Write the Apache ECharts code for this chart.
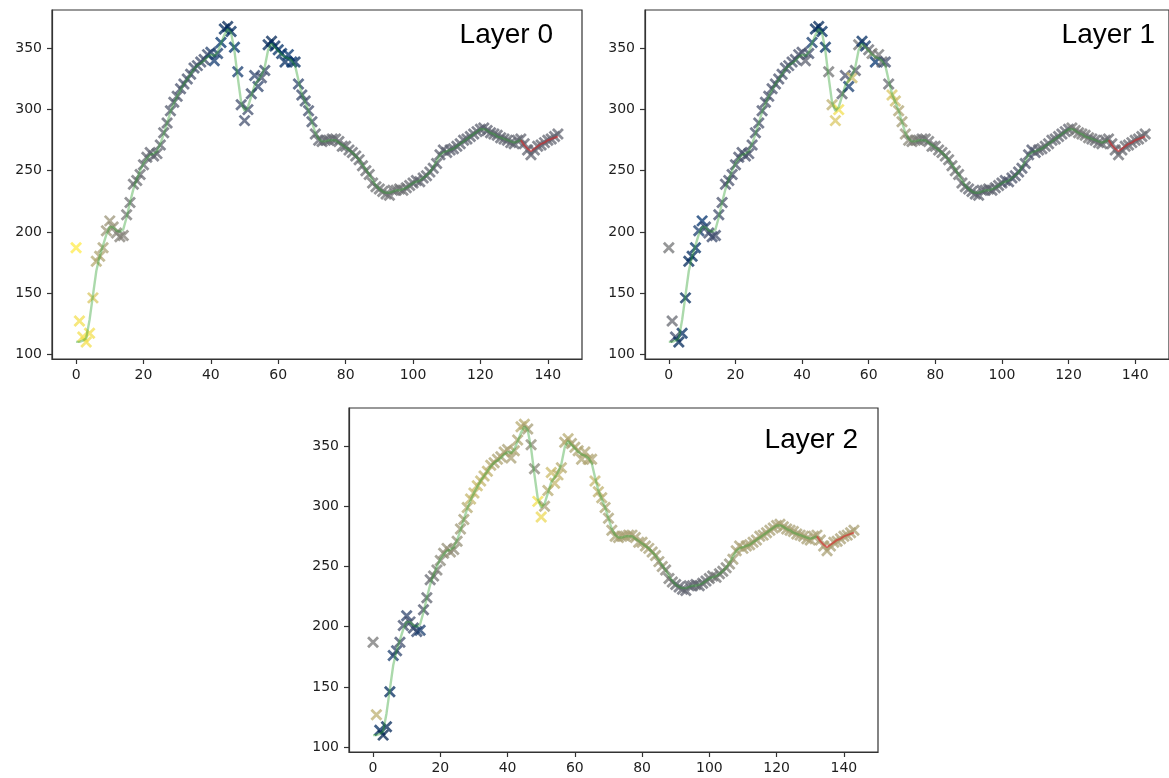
<!DOCTYPE html>
<html>
<head>
<meta charset="utf-8">
<script src="https://cdn.jsdelivr.net/npm/echarts@6/dist/echarts.min.js"></script>
<style>
  html, body { margin: 0; padding: 0; background: #fff; }
  #chart { width: 1169px; height: 778px; }
</style>
</head>
<body>
<div id="chart"></div>
<script>
// Observed series, one value per time step (0..143)
const observed = [
  187, 127, 114, 110, 117, 146, 176, 180, 187, 201,
  209, 204, 199, 196, 197, 214, 224, 239, 242, 247,
  255, 261, 265, 262, 264, 271, 281, 289, 299, 306,
  311, 317, 321, 325, 329, 334, 336, 339, 341, 345,
  347, 340, 346, 355, 366, 368, 364, 351, 331, 304,
  291, 300, 313, 328, 319, 326, 332, 353, 356, 352,
  349, 346, 339, 345, 339, 339, 321, 312, 307, 299,
  290, 280, 275, 274, 275, 275, 276, 276, 274, 270,
  270, 267, 265, 262, 259, 254, 250, 247, 240, 237,
  235, 233, 231, 230, 234, 234, 235, 234, 236, 238,
  240, 242, 241, 244, 246, 249, 252, 256, 263, 267,
  265, 267, 268, 270, 272, 275, 276, 278, 280, 282,
  284, 285, 283, 281, 280, 279, 277, 276, 275, 273,
  272, 275, 276, 272, 267, 263, 267, 270, 271, 273,
  275, 276, 278, 280
];

// Fitted curve over steps 0..132
const fitted = [
  110, 110, 111, 113, 128, 148, 168, 180, 189, 198,
  204, 204, 201, 200, 202, 212, 224, 235, 243, 250,
  256, 260, 263, 264, 266, 272, 280, 289, 298, 305,
  311, 316, 321, 325, 329, 333, 336, 338, 340, 343,
  345, 344, 347, 354, 361, 366, 363, 348, 326, 306,
  299, 302, 311, 320, 324, 328, 335, 349, 354, 351,
  348, 345, 343, 342, 340, 336, 324, 313, 306, 299,
  290, 281, 276, 274, 274, 275, 275, 275, 273, 271,
  269, 267, 265, 262, 259, 255, 251, 247, 242, 238,
  235, 233, 232, 232, 233, 234, 234, 235, 236, 238,
  240, 241, 242, 244, 246, 249, 253, 258, 263, 265,
  266, 267, 268, 270, 272, 274, 276, 278, 280, 282,
  284, 284, 283, 281, 280, 278, 277, 276, 275, 274,
  273, 274, 275
];
const fittedStart = 0;

// Forecast over steps 132..143
const forecast = [275, 271, 268, 266, 268, 270, 272, 273, 275, 276, 277, 278];
const forecastStart = 132;

// Per-step weights (0..1) for each layer, shown through the cividis colormap
const weightsLayer0 = [
  1.00, 0.95, 0.95, 0.95, 0.95, 0.85, 0.72, 0.70, 0.68, 0.62,
  0.62, 0.60, 0.56, 0.52, 0.52, 0.46, 0.44, 0.42, 0.42, 0.41,
  0.40, 0.39, 0.38, 0.38, 0.38, 0.36, 0.36, 0.34, 0.32, 0.31,
  0.30, 0.28, 0.28, 0.27, 0.27, 0.26, 0.26, 0.25, 0.24, 0.22,
  0.18, 0.14, 0.16, 0.10, 0.05, 0.03, 0.06, 0.10, 0.15, 0.25,
  0.25, 0.25, 0.23, 0.20, 0.20, 0.25, 0.22, 0.05, 0.03, 0.06,
  0.08, 0.08, 0.06, 0.10, 0.10, 0.06, 0.20, 0.22, 0.25, 0.25,
  0.27, 0.36, 0.38, 0.39, 0.39, 0.40, 0.40, 0.40, 0.40, 0.40,
  0.40, 0.40, 0.40, 0.40, 0.41, 0.42, 0.42, 0.43, 0.44, 0.44,
  0.44, 0.44, 0.44, 0.44, 0.44, 0.44, 0.44, 0.44, 0.42, 0.41,
  0.40, 0.38, 0.38, 0.38, 0.38, 0.38, 0.37, 0.36, 0.35, 0.35,
  0.35, 0.35, 0.35, 0.35, 0.35, 0.35, 0.35, 0.35, 0.35, 0.35,
  0.35, 0.35, 0.35, 0.35, 0.36, 0.36, 0.36, 0.36, 0.36, 0.36,
  0.36, 0.38, 0.38, 0.38, 0.38, 0.38, 0.38, 0.38, 0.38, 0.38,
  0.38, 0.38, 0.38, 0.38
];
const weightsLayer1 = [
  0.45, 0.40, 0.25, 0.04, 0.06, 0.04, 0.04, 0.06, 0.08, 0.16,
  0.10, 0.20, 0.25, 0.22, 0.25, 0.25, 0.28, 0.28, 0.28, 0.28,
  0.28, 0.28, 0.28, 0.28, 0.28, 0.28, 0.28, 0.28, 0.28, 0.28,
  0.28, 0.28, 0.28, 0.28, 0.28, 0.28, 0.28, 0.28, 0.28, 0.28,
  0.28, 0.34, 0.25, 0.15, 0.04, 0.04, 0.07, 0.07, 0.45, 0.75,
  0.85, 0.95, 0.34, 0.28, 0.15, 0.80, 0.34, 0.45, 0.07, 0.15,
  0.40, 0.50, 0.10, 0.45, 0.40, 0.25, 0.40, 0.85, 0.80, 0.70,
  0.66, 0.62, 0.56, 0.50, 0.50, 0.48, 0.44, 0.44, 0.44, 0.44,
  0.44, 0.44, 0.44, 0.44, 0.44, 0.44, 0.44, 0.42, 0.41, 0.40,
  0.38, 0.36, 0.36, 0.36, 0.36, 0.36, 0.36, 0.36, 0.36, 0.36,
  0.34, 0.30, 0.30, 0.30, 0.30, 0.30, 0.30, 0.30, 0.30, 0.30,
  0.30, 0.38, 0.38, 0.38, 0.38, 0.38, 0.38, 0.38, 0.38, 0.38,
  0.38, 0.46, 0.46, 0.46, 0.46, 0.46, 0.46, 0.41, 0.41, 0.41,
  0.41, 0.41, 0.41, 0.41, 0.41, 0.41, 0.41, 0.41, 0.41, 0.41,
  0.41, 0.41, 0.41, 0.41
];
const weightsLayer2 = [
  0.46, 0.75, 0.06, 0.00, 0.03, 0.05, 0.16, 0.20, 0.25, 0.25,
  0.20, 0.25, 0.22, 0.20, 0.16, 0.30, 0.36, 0.40, 0.46, 0.50,
  0.56, 0.58, 0.60, 0.60, 0.58, 0.60, 0.64, 0.66, 0.72, 0.78,
  0.78, 0.80, 0.78, 0.76, 0.76, 0.73, 0.70, 0.70, 0.68, 0.70,
  0.68, 0.68, 0.70, 0.70, 0.73, 0.73, 0.66, 0.58, 0.56, 0.95,
  0.92, 0.68, 0.73, 0.80, 0.78, 0.76, 0.73, 0.70, 0.73, 0.68,
  0.70, 0.70, 0.70, 0.70, 0.70, 0.70, 0.78, 0.76, 0.73, 0.70,
  0.68, 0.68, 0.68, 0.68, 0.68, 0.68, 0.68, 0.68, 0.68, 0.68,
  0.68, 0.68, 0.68, 0.66, 0.66, 0.64, 0.62, 0.52, 0.48, 0.46,
  0.40, 0.38, 0.38, 0.38, 0.38, 0.38, 0.38, 0.38, 0.40, 0.40,
  0.44, 0.44, 0.46, 0.46, 0.48, 0.52, 0.58, 0.66, 0.68, 0.68,
  0.68, 0.68, 0.68, 0.68, 0.68, 0.68, 0.68, 0.68, 0.68, 0.68,
  0.68, 0.68, 0.68, 0.68, 0.68, 0.68, 0.68, 0.68, 0.68, 0.68,
  0.68, 0.68, 0.68, 0.68, 0.68, 0.68, 0.68, 0.68, 0.68, 0.68,
  0.68, 0.68, 0.68, 0.68
];

const layerNames = ['Layer 0', 'Layer 1', 'Layer 2'];
const layerWeights = [weightsLayer0, weightsLayer1, weightsLayer2];

const xTicks = [0, 20, 40, 60, 80, 100, 120, 140];
const yTicks = [100, 150, 200, 250, 300, 350];

// cividis colormap stops
const cividis = ['#00204D', '#00336F', '#39486B', '#575C6D', '#707173',
                 '#8A8779', '#A69D75', '#C4B56C', '#E4CF5B', '#FFEA46'];

function hexToRgb(h) {
  return [parseInt(h.slice(1, 3), 16), parseInt(h.slice(3, 5), 16), parseInt(h.slice(5, 7), 16)];
}
function cmap(t) {
  t = Math.max(0, Math.min(1, t));
  const pos = t * (cividis.length - 1);
  const i = Math.min(cividis.length - 2, Math.floor(pos));
  const f = pos - i;
  const a = hexToRgb(cividis[i]), b = hexToRgb(cividis[i + 1]);
  const c = a.map((v, k) => Math.round(v + (b[k] - v) * f));
  return 'rgba(' + c[0] + ',' + c[1] + ',' + c[2] + ',0.92)';
}

// Panel boxes (plot area of each subplot)
const panels = [
  { left: 52, top: 10, width: 530, height: 349, titleX: 553, titleY: 35 },
  { left: 645, top: 10, width: 530, height: 349, titleX: 1155, titleY: 35 },
  { left: 349, top: 408, width: 529, height: 344, titleX: 858, titleY: 440 }
];

const xMin = -7.15, xMax = 150.15;
const yMin = 96, yMax = 381.5;

const grids = [], xAxes = [], yAxes = [], series = [], graphics = [];
const axisColor = '#333';
const labelStyle = { fontFamily: 'DejaVu Sans', fontSize: 14, color: '#1e1e1e' };

panels.forEach((p, k) => {
  grids.push({
    left: p.left, top: p.top, width: p.width, height: p.height,
    show: true, borderColor: axisColor, borderWidth: 1.2, backgroundColor: 'transparent'
  });
  xAxes.push({
    type: 'value', gridIndex: k, min: xMin, max: xMax,
    axisLine: { show: true, onZero: false, lineStyle: { color: axisColor, width: 1.2 } },
    axisTick: { show: true, length: 5, customValues: xTicks, lineStyle: { color: axisColor, width: 1.2 } },
    axisLabel: Object.assign({ customValues: xTicks, margin: 9 }, labelStyle),
    splitLine: { show: false }
  });
  yAxes.push({
    type: 'value', gridIndex: k, min: yMin, max: yMax,
    axisLine: { show: true, onZero: false, lineStyle: { color: axisColor, width: 1.2 } },
    axisTick: { show: true, length: 5, customValues: yTicks, lineStyle: { color: axisColor, width: 1.2 } },
    axisLabel: Object.assign({ customValues: yTicks, margin: 10 }, labelStyle),
    splitLine: { show: false }
  });

  const w = layerWeights[k];
  series.push({
    type: 'scatter', xAxisIndex: k, yAxisIndex: k,
    symbol: 'path://M0,0L10,10M10,0L0,10',
    symbolSize: 10,
    z: 2,
    data: observed.map((v, i) => ({
      value: [i, v],
      itemStyle: { color: cmap(w[i]), borderColor: cmap(w[i]), borderWidth: 2.8 }
    }))
  });
  series.push({
    type: 'line', xAxisIndex: k, yAxisIndex: k, z: 3,
    showSymbol: false, silent: true,
    lineStyle: { color: 'rgba(44,160,44,0.4)', width: 2.4 },
    data: fitted.map((v, i) => [fittedStart + i, v])
  });
  series.push({
    type: 'line', xAxisIndex: k, yAxisIndex: k, z: 3,
    showSymbol: false, silent: true,
    lineStyle: { color: 'rgba(214,39,40,0.6)', width: 2 },
    data: forecast.map((v, i) => [forecastStart + i, v])
  });

  graphics.push({
    type: 'text', x: p.titleX, y: p.titleY, z: 10,
    style: {
      text: layerNames[k], fill: '#000',
      font: '28px "Liberation Sans", Arial, sans-serif',
      textAlign: 'right', textVerticalAlign: 'middle'
    }
  });
});

const chart = echarts.init(document.getElementById('chart'), null, { renderer: 'canvas' });
chart.setOption({
  animation: false,
  backgroundColor: '#fff',
  grid: grids,
  xAxis: xAxes,
  yAxis: yAxes,
  series: series,
  graphic: graphics
});
</script>
</body>
</html>
